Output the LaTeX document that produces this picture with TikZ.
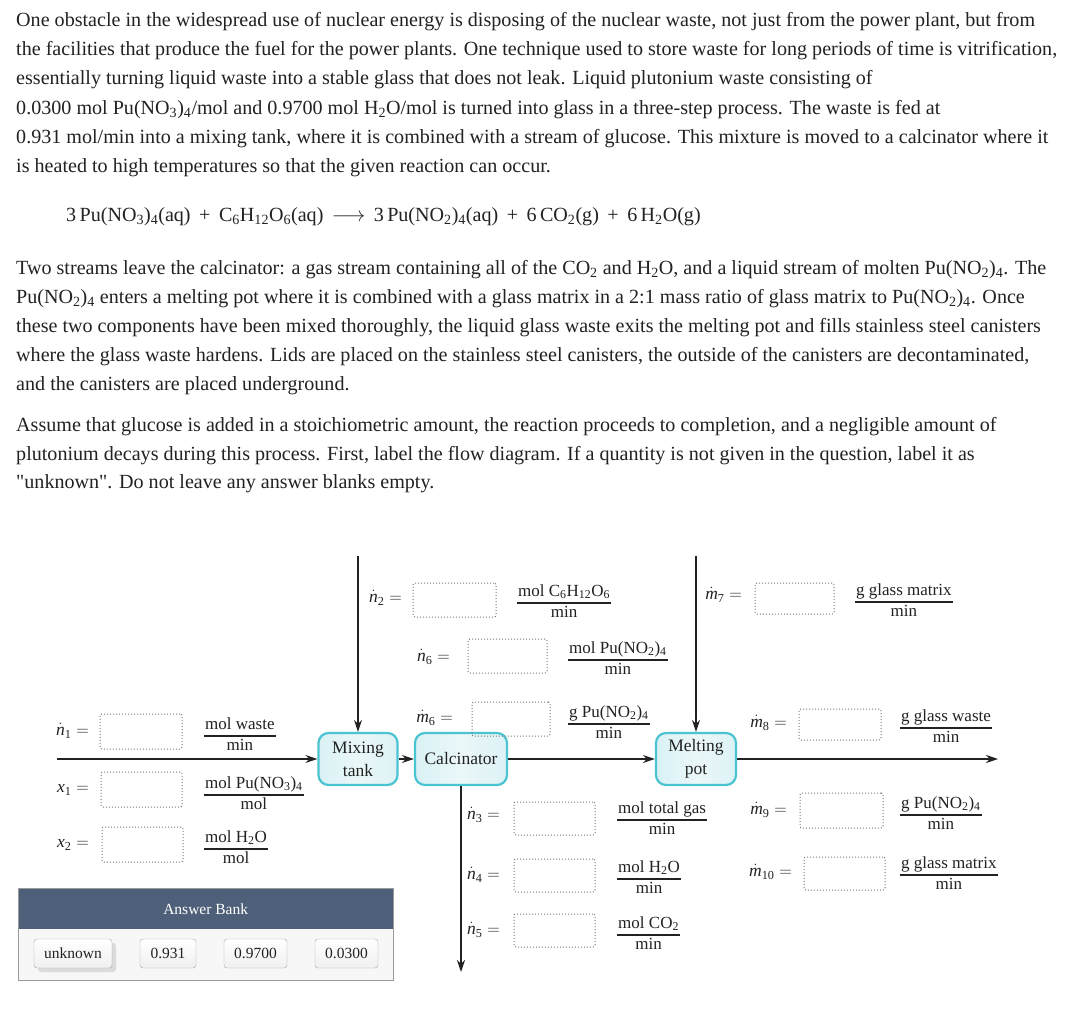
\documentclass[tikz,border=0pt]{standalone}
\usepackage{amsmath}
\usepackage{fontspec}
\setmainfont{Liberation Serif}
\usetikzlibrary{arrows.meta}
\definecolor{ink}{HTML}{222222}
\definecolor{proc}{HTML}{4BC3D1}
\definecolor{procfill}{HTML}{DDF2F5}
\definecolor{bankhead}{HTML}{4E6079}
\definecolor{bankbg}{HTML}{F7F7F7}
\definecolor{bankline}{HTML}{9A9A9A}
\definecolor{btnline}{HTML}{A8A8A8}
\definecolor{dotline}{HTML}{7A7A7A}
\setlength{\arrayrulewidth}{1.1pt}
\newcommand\sbs[1]{\textsubscript{#1}}
\newcommand\fv[2]{$\dot{\textit{#1}}_{\text{\upshape #2}} =$}
\newcommand\xv[1]{$\textit{x}_{\text{\upshape #1}} =$}
\newcommand\fracl[2]{\begin{tabular}{@{\hspace{1pt}}c@{\hspace{1pt}}}#1\\\hline #2\end{tabular}}
\newcommand\opgap{\hspace{8.5pt}}
\tikzset{
  body/.style={anchor=base west, inner sep=0pt, font=\fontsize{20.1}{29}\selectfont, text=ink},
  lab/.style={anchor=east, inner sep=0pt, font=\fontsize{17.5}{20}\selectfont, text=ink},
  blank/.style={draw=dotline, dotted, line width=1pt, rounded corners=2pt, inner sep=0pt},
  unit/.style={anchor=west, inner sep=0pt, font=\fontsize{17}{20.5}\selectfont, text=ink},
  procbox/.style={draw=proc, line width=2.2pt, rounded corners=10pt, left color=procfill!80!proc!60, right color=procfill, middle color=procfill!60, align=center,
    font=\fontsize{17.5}{23}\selectfont, text=ink, inner sep=0pt, minimum height=52pt},
  flow/.style={draw=ink, line width=1.2pt, -{Stealth[length=12pt,width=8pt]}},
  btn/.style={draw=btnline, rounded corners=3pt, top color=white, bottom color=gray!12,
    font=\fontsize{15.5}{18}\selectfont, text=ink, inner sep=0pt, minimum height=29pt},
}
\begin{document}
\begin{tikzpicture}[x=1pt,y=-1pt]
\useasboundingbox[fill=white] (0,0) rectangle (1078,1014);
% ---------- text ----------
\node[body] (t1) at (16,27) {One obstacle in the widespread use of nuclear energy is disposing of the nuclear waste, not just from the power plant, but from};
\node[body] (t2) at (16,56) {the facilities that produce the fuel for the power plants. One technique used to store waste for long periods of time is vitrification,};
\node[body] (t3) at (16,85) {essentially turning liquid waste into a stable glass that does not leak. Liquid plutonium waste consisting of};
\node[body] (t4) at (16,114) {0.0300 mol Pu(NO\sbs{3})\sbs{4}/mol and 0.9700 mol H\sbs{2}O/mol is turned into glass in a three-step process. The waste is fed at};
\node[body] (t5) at (16,143) {0.931 mol/min into a mixing tank, where it is combined with a stream of glucose. This mixture is moved to a calcinator where it};
\node[body] (t6) at (16,172) {is heated to high temperatures so that the given reaction can occur.};
\node[body] (eq) at (66,221) {3\,Pu(NO\sbs{3})\sbs{4}(aq)\opgap+\opgap C\sbs{6}H\sbs{12}O\sbs{6}(aq)\opgap$\longrightarrow$\opgap 3\,Pu(NO\sbs{2})\sbs{4}(aq)\opgap+\opgap 6\,CO\sbs{2}(g)\opgap+\opgap 6\,H\sbs{2}O(g)};
\node[body] (p1) at (16,274) {Two streams leave the calcinator: a gas stream containing all of the CO\sbs{2} and H\sbs{2}O, and a liquid stream of molten Pu(NO\sbs{2})\sbs{4}. The};
\node[body] (p2) at (16,303) {Pu(NO\sbs{2})\sbs{4} enters a melting pot where it is combined with a glass matrix in a 2:1 mass ratio of glass matrix to Pu(NO\sbs{2})\sbs{4}. Once};
\node[body] (p3) at (16,332) {these two components have been mixed thoroughly, the liquid glass waste exits the melting pot and fills stainless steel canisters};
\node[body] (p4) at (16,361) {where the glass waste hardens. Lids are placed on the stainless steel canisters, the outside of the canisters are decontaminated,};
\node[body] (p5) at (16,390) {and the canisters are placed underground.};
\node[body] (q1) at (16,431) {Assume that glucose is added in a stoichiometric amount, the reaction proceeds to completion, and a negligible amount of};
\node[body] (q2) at (16,460) {plutonium decays during this process. First, label the flow diagram. If a quantity is not given in the question, label it as};
\node[body] (q3) at (16,488) {\textquotedbl unknown\textquotedbl. Do not leave any answer blanks empty.};
% ---------- process units ----------
\node[procbox, minimum width=79pt] (mix) at (358,759) {Mixing\\tank};
\node[procbox, minimum width=92pt] (calc) at (461,759) {Calcinator};
\node[procbox, minimum width=80pt] (melt) at (696,759) {Melting\\pot};
% ---------- streams ----------
\coordinate (feed) at (57,759);
\coordinate (glu) at (358,556);
\coordinate (mat) at (696,556);
\coordinate (gas) at (461,972);
\coordinate (prod) at (998,759);
\draw[flow] (feed) -- (mix);
\draw[flow] (glu) -- (mix);
\draw[flow] (mix) -- (calc);
\draw[flow] (calc) -- (melt);
\draw[flow] (calc) -- (gas);
\draw[flow] (mat) -- (melt);
\draw[flow] (melt) -- (prod);
% ---------- stream 1 ----------
\node[lab] (ln1) at (89,731) {\fv{n}{1}};
\node[blank, minimum width=82pt, minimum height=35pt] (bn1) at (141,731.5) {};
\node[unit] (un1) at (204,736) {\fracl{mol waste}{min}};
\node[lab] (lx1) at (89,790) {\xv{1}};
\node[blank, minimum width=81pt, minimum height=35pt] (bx1) at (141.5,789.5) {};
\node[unit] (ux1) at (204,795) {\fracl{mol Pu(NO\sbs{3})\sbs{4}}{mol}};
\node[lab] (lx2) at (89,845) {\xv{2}};
\node[blank, minimum width=81pt, minimum height=35pt] (bx2) at (142.5,844.5) {};
\node[unit] (ux2) at (204,849) {\fracl{mol H\sbs{2}O}{mol}};
% ---------- stream 2 ----------
\node[lab] (ln2) at (402,598) {\fv{n}{2}};
\node[blank, minimum width=83pt, minimum height=34pt] (bn2) at (454.5,600) {};
\node[unit] (un2) at (517,603) {\fracl{mol C\sbs{6}H\sbs{12}O\sbs{6}}{min}};
% ---------- stream 6 ----------
\node[lab] (ln6) at (450,657) {\fv{n}{6}};
\node[blank, minimum width=79pt, minimum height=34pt] (bn6) at (507.5,656) {};
\node[unit] (un6) at (568,660) {\fracl{mol Pu(NO\sbs{2})\sbs{4}}{min}};
\node[lab] (lm6) at (453,718) {\fv{m}{6}};
\node[blank, minimum width=78pt, minimum height=34pt] (bm6) at (511,719) {};
\node[unit] (um6) at (568,724) {\fracl{g Pu(NO\sbs{2})\sbs{4}}{min}};
% ---------- stream 7 ----------
\node[lab] (lm7) at (742,595) {\fv{m}{7}};
\node[blank, minimum width=79pt, minimum height=31pt] (bm7) at (794.5,598.5) {};
\node[unit] (um7) at (855,602) {\fracl{g glass matrix}{min}};
% ---------- stream 8 ----------
\node[lab] (lm8) at (787,723) {\fv{m}{8}};
\node[blank, minimum width=82pt, minimum height=31pt] (bm8) at (840,724.5) {};
\node[unit] (um8) at (900,728) {\fracl{g glass waste}{min}};
\node[lab] (lm9) at (787,810) {\fv{m}{9}};
\node[blank, minimum width=83pt, minimum height=35pt] (bm9) at (841.5,810.5) {};
\node[unit] (um9) at (900,815) {\fracl{g Pu(NO\sbs{2})\sbs{4}}{min}};
\node[lab] (lm10) at (792,872) {\fv{m}{10}};
\node[blank, minimum width=81pt, minimum height=33pt] (bm10) at (844.5,873.5) {};
\node[unit] (um10) at (900,875) {\fracl{g glass matrix}{min}};
% ---------- stream 3 ----------
\node[lab] (ln3) at (500,815) {\fv{n}{3}};
\node[blank, minimum width=81pt, minimum height=33pt] (bn3) at (554.5,818.5) {};
\node[unit] (un3) at (617,820) {\fracl{mol total gas}{min}};
\node[lab] (ln4) at (500,875) {\fv{n}{4}};
\node[blank, minimum width=81pt, minimum height=33pt] (bn4) at (554.5,875.5) {};
\node[unit] (un4) at (617,879) {\fracl{mol H\sbs{2}O}{min}};
\node[lab] (ln5) at (500,930) {\fv{n}{5}};
\node[blank, minimum width=81pt, minimum height=33pt] (bn5) at (554.5,930.5) {};
\node[unit] (un5) at (617,935) {\fracl{mol CO\sbs{2}}{min}};
% ---------- answer bank ----------
\node[draw=bankline, line width=1pt, fill=bankbg, minimum width=375pt, minimum height=92pt, inner sep=0pt, anchor=north west] (bank) at (18,888) {};
\node[fill=bankhead, minimum width=374pt, minimum height=40pt, inner sep=0pt, anchor=north west, text=white, font=\fontsize{15.5}{18}\selectfont] (bankh) at (18.5,888.5) {Answer Bank};
\node[fill=gray!28, rounded corners=3pt, minimum width=78pt, minimum height=29pt, inner sep=0pt] (shad) at (77,957.5) {};
\node[btn, minimum width=78pt] (a1) at (73,953.5) {unknown};
\node[btn, minimum width=56pt] (a2) at (168,953.5) {0.931};
\node[btn, minimum width=63pt] (a3) at (255.5,953.5) {0.9700};
\node[btn, minimum width=63pt] (a4) at (346.5,953.5) {0.0300};
\end{tikzpicture}
\end{document}
